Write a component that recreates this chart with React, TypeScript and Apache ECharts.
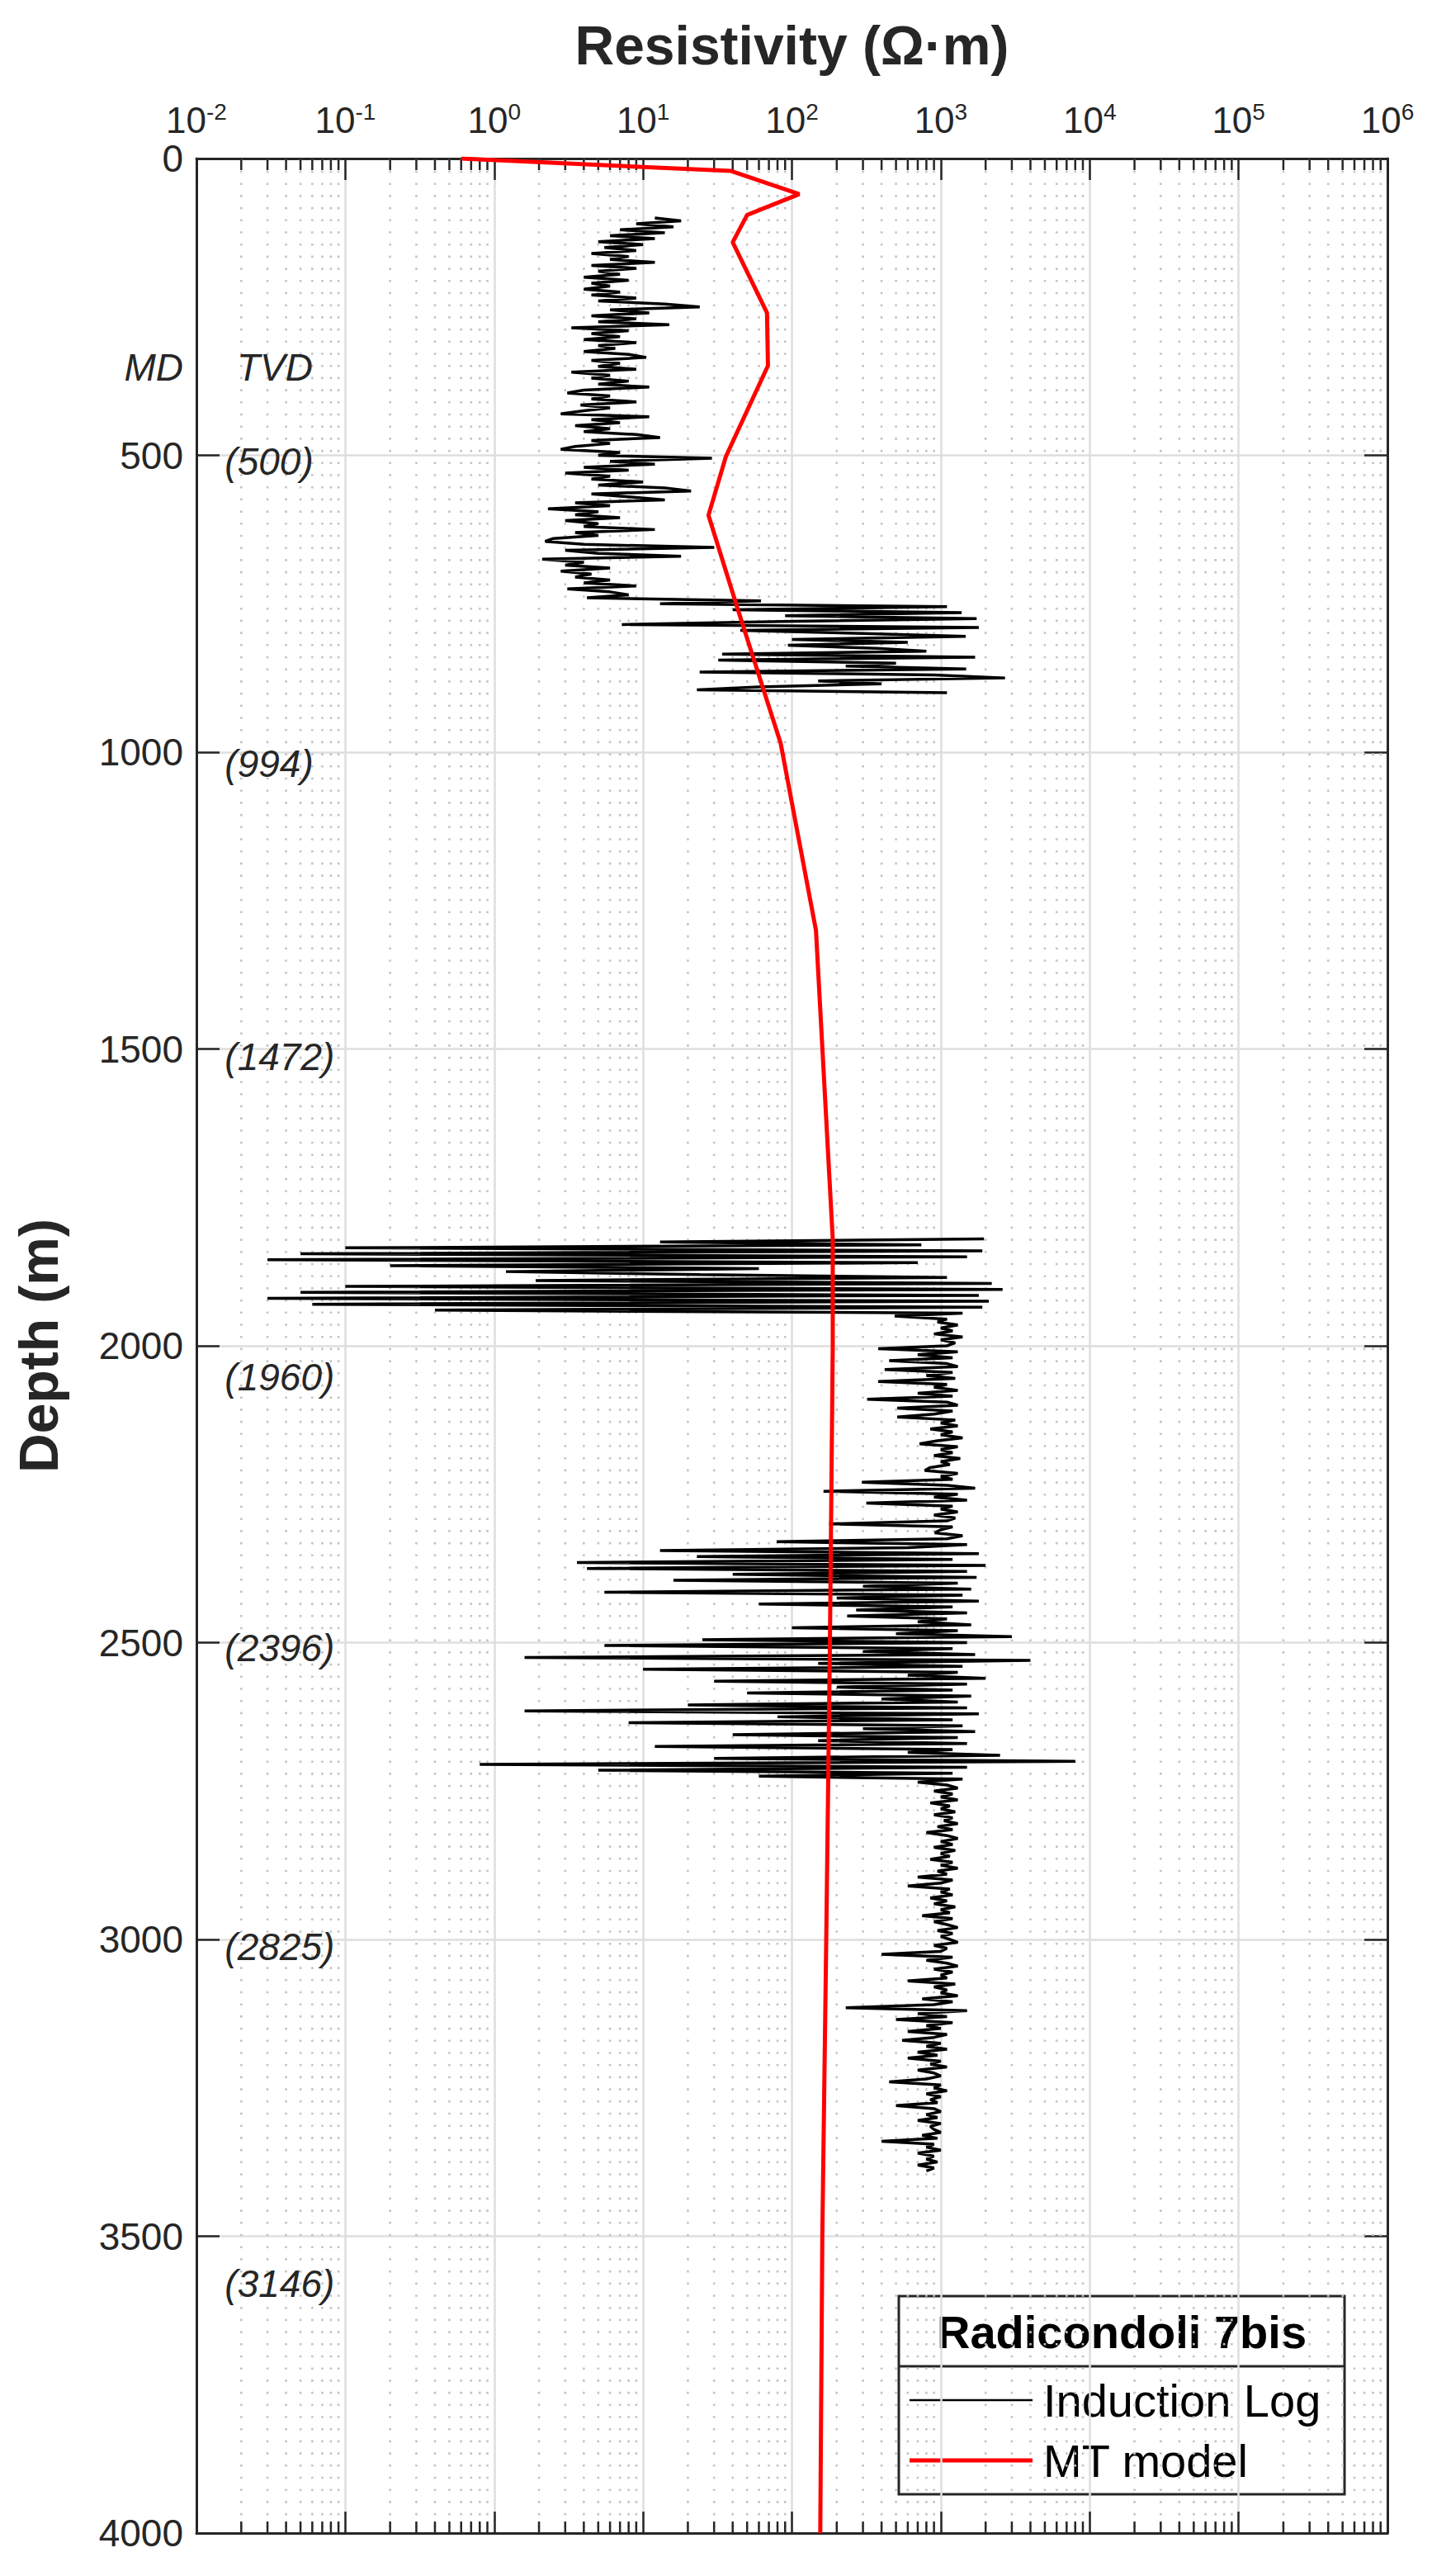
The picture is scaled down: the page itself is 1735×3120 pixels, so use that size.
import React, { useEffect, useRef } from 'react';
import * as echarts from 'echarts';

const FONT = 'Liberation Sans, Arial, Helvetica, sans-serif';
const AXIS_COLOR = '#262626';

// x axis decades (exponents) and minor multipliers
const xDecades = [-2, -1, 0, 1, 2, 3, 4, 5];
const minorMultipliers = [2, 3, 4, 5, 6, 7, 8, 9];

// MT model (resistivity in ohm·m vs depth in m)
const mtDepth = [0, 21, 60, 95, 141, 260, 349, 502, 601, 757, 985, 1300, 1820, 2000, 2500, 3000, 3500, 4000];
const mtRes = [0.6, 39, 112, 50, 40, 68, 69, 36, 27.5, 43, 84, 145, 188, 188, 180, 170, 160, 155];

// Induction log, upper section, sampled every 5 m starting at 100 m
const LOG_STEP = 5;
const LOG_A_START = 100;
const logResA = [
  12, 18, 9, 16, 7, 14, 6, 12, 5, 10, // 100
  5.5, 9, 4.5, 8, 6, 12, 4.5, 9, 5, 7, // 150
  4, 8, 4.5, 6, 4, 7, 4.5, 9, 5, 14, // 200
  24, 6, 11, 4.5, 9, 5, 15, 3.3, 8, 4.5, // 250
  7, 4, 9, 5, 6.5, 4, 8, 10.5, 4.5, 7, // 300
  5, 9, 3.3, 6, 4.5, 8, 5, 11, 4, 3.1, // 350
  6, 4.5, 9, 3.8, 6, 4, 2.8, 11, 4.5, 7, // 400
  3.5, 6, 4, 9, 13, 4.5, 6, 3.5, 2.8, 7, // 450
  5, 29, 6, 12, 4, 8, 3, 6, 4.5, 10, // 500
  5, 14, 21, 4.5, 8, 14, 3.5, 6, 2.3, 5, // 550
  3.5, 7, 3, 5, 4, 12, 3.5, 5, 2.5, 2.2, // 600
  4, 30, 3, 5, 18, 2.1, 4, 3, 6, 2.8, // 650
  4.5, 3.5, 6, 4, 9, 3.1, 6, 8, 4.2, 62, // 700
  13, 1100, 40, 1380, 90, 1740, 84, 7.2, 1800, 45, // 750
  300, 1470, 100, 600, 94, 370, 800, 34, 1700, 32, // 800
  500, 230, 1480, 24, 900, 2700, 150, 400, 60, 23, // 850
  1100, // 900
];

// Induction log, lower section, sampled every 5 m starting at 1820 m
const LOG_B_START = 1820;
const logResB = [
  1950, 13, 740, 0.1, 1900, 0.05, 1500, 0.03, 700, 0.2, // 1820
  60, 1.2, 24, 1100, 1.9, 2200, 0.1, 2600, 0.05, 1800, // 1870
  0.03, 2100, 0.06, 1900, 0.4, 1400, 490, 1100, 950, 1300, // 1920
  1000, 1200, 900, 1400, 1000, 1250, 1100, 380, 1300, 700, // 1970
  1200, 450, 1100, 1300, 420, 1200, 800, 1250, 380, 1100, // 2020
  900, 1300, 700, 1200, 320, 1100, 1300, 510, 1200, 900, // 2070
  510, 1250, 1000, 1300, 850, 1200, 1000, 1400, 950, 720, // 2120
  1300, 1000, 1200, 900, 1350, 1000, 1150, 850, 780, 1300, // 2170
  1000, 1200, 295, 1100, 1700, 163, 1300, 900, 1500, 316, // 2220
  1200, 1000, 1300, 900, 1250, 1100, 178, 1200, 1000, 910, // 2270
  1400, 1100, 79, 1500, 600, 13, 1800, 23, 1200, 3.6, // 2320
  2000, 4.2, 1500, 40, 1740, 16, 1300, 300, 1600, 5.5, // 2370
  1400, 200, 1800, 60, 1200, 270, 1500, 235, 1100, 700, // 2420
  1600, 100, 1300, 500, 3000, 25, 1500, 5.5, 1200, 300, // 2470
  1700, 1.6, 4000, 150, 1400, 10, 1300, 600, 2000, 30, // 2520
  1500, 200, 1200, 50, 1600, 400, 1300, 20, 1500, 1.6, // 2570
  1800, 80, 1200, 8, 1400, 300, 1700, 40, 1300, 150, // 2620
  1500, 12, 1200, 600, 2500, 30, 8000, 0.8, 1500, 5, // 2670
  1200, 60, 1400, 700, 1100, 1300, 900, 1200, 1000, 1300, // 2720
  850, 1150, 1000, 1250, 900, 1200, 1050, 1300, 950, 1200, // 2770
  800, 1100, 1300, 1000, 1200, 900, 1250, 1000, 1150, 850, // 2820
  1200, 1000, 1300, 950, 1100, 700, 1200, 1000, 600, 1150, // 2870
  1000, 1200, 850, 1100, 900, 1250, 1000, 1150, 750, 1200, // 2920
  900, 1100, 1300, 950, 1200, 1000, 1150, 1300, 900, 1100, // 2970
  1000, 400, 1200, 800, 1100, 1300, 900, 1200, 1000, 1100, // 3020
  600, 1250, 900, 1100, 1000, 1300, 750, 1200, 900, 230, // 3070
  1500, 700, 1100, 500, 1200, 800, 1000, 600, 1100, 900, // 3120
  550, 1000, 800, 1100, 700, 950, 600, 1000, 850, 1100, // 3170
  700, 900, 1000, 800, 450, 1000, 900, 1100, 800, 1000, // 3220
  850, 950, 500, 900, 1000, 800, 950, 700, 1000, 850, // 3270
  900, 1000, 750, 950, 400, 900, 800, 1000, 700, 900, // 3320
  800, 950, 700, 900, 800, // 3370
];

// TVD annotations (label, MD depth where drawn)
const tvdLabels = ['(500)', '(994)', '(1472)', '(1960)', '(2396)', '(2825)', '(3146)'];
const tvdDepths = [511, 1020, 1513, 2053, 2509, 3012, 3580];
const TVD_X = 0.0155;

const legendTitle = 'Radicondoli 7bis';
const seriesNames = ['Induction Log', 'MT model'];

function buildOption(): any {
  const minorValues: number[][] = [];
  xDecades.forEach((e) => {
    minorMultipliers.forEach((m) => minorValues.push([m * Math.pow(10, e), 0]));
  });

  const logDataA = logResA.map((v, i) => [v, LOG_A_START + i * LOG_STEP]);
  const logDataB = logResB.map((v, i) => [v, LOG_B_START + i * LOG_STEP]);
  const mtData = mtRes.map((v, i) => [v, mtDepth[i]]);
  const tvdData = tvdLabels.map((t, i) => [TVD_X, tvdDepths[i], i]);

  const xCommon = {
    type: 'log',
    logBase: 10,
    min: 0.01,
    max: 1e6,
    splitNumber: 8,
    gridIndex: 0,
    axisLine: { show: true, onZero: false, lineStyle: { color: AXIS_COLOR, width: 3 } },
    axisTick: { show: true, inside: true, length: 26, lineStyle: { color: AXIS_COLOR, width: 2.5 } },
    minorTick: { show: false },
  };

  const yCommon = {
    type: 'value',
    inverse: true,
    min: 0,
    max: 4000,
    interval: 500,
    gridIndex: 0,
    axisLine: { show: true, onZero: false, lineStyle: { color: AXIS_COLOR, width: 3 } },
    axisTick: { show: true, inside: true, length: 28, lineStyle: { color: AXIS_COLOR, width: 2.5 } },
  };

  return {
    animation: false,
    backgroundColor: '#ffffff',
    grid: { left: 238, top: 192, width: 1443, height: 2876, containLabel: false },
    xAxis: [
      {
        ...xCommon,
        position: 'top',
        name: 'Resistivity (Ω·m)',
        nameLocation: 'middle',
        nameGap: 104,
        nameTextStyle: { fontFamily: FONT, fontSize: 66, fontWeight: 'bold', color: AXIS_COLOR },
        splitLine: { show: true, lineStyle: { color: '#dedede', width: 2.5 } },
        axisLabel: {
          show: true,
          margin: 25,
          showMinLabel: true,
          showMaxLabel: true,
          formatter: (v: number) => `{b|10}{s|${Math.round(Math.log10(v))}}`,
          rich: {
            b: { fontFamily: FONT, fontSize: 44, lineHeight: 46, verticalAlign: 'bottom', color: AXIS_COLOR },
            s: { fontFamily: FONT, fontSize: 28, lineHeight: 24, verticalAlign: 'top', color: AXIS_COLOR },
          },
        },
      },
      {
        ...xCommon,
        position: 'bottom',
        splitLine: { show: false },
        axisLabel: { show: false },
      },
    ],
    yAxis: [
      {
        ...yCommon,
        position: 'left',
        name: 'Depth (m)',
        nameLocation: 'middle',
        nameRotate: 90,
        nameGap: 158,
        nameTextStyle: { fontFamily: FONT, fontSize: 66, fontWeight: 'bold', color: AXIS_COLOR },
        splitLine: { show: true, lineStyle: { color: '#dedede', width: 2.5 } },
        axisLabel: {
          show: true,
          margin: 16,
          showMinLabel: true,
          showMaxLabel: true,
          fontFamily: FONT,
          fontSize: 46,
          lineHeight: 30,
          color: AXIS_COLOR,
          formatter: (v: number) => String(v),
        },
      },
      {
        ...yCommon,
        position: 'right',
        splitLine: { show: false },
        axisLabel: { show: false },
      },
    ],
    series: [
      {
        type: 'custom',
        name: 'minor grid',
        coordinateSystem: 'cartesian2d',
        xAxisIndex: 0,
        yAxisIndex: 0,
        silent: true,
        z: 1,
        encode: { x: 0, y: 1 },
        data: minorValues,
        renderItem: (params: any, api: any) => {
          const v = api.value(0);
          const pTop = api.coord([v, 0]);
          const pBot = api.coord([v, 4000]);
          const x = pTop[0];
          return {
            type: 'group',
            children: [
              {
                type: 'line',
                shape: { x1: x, y1: pTop[1], x2: x, y2: pBot[1] },
                style: { stroke: '#c4c4c4', lineWidth: 2.6, lineDash: [2.6, 12.1] },
              },
              {
                type: 'line',
                shape: { x1: x, y1: pTop[1], x2: x, y2: pTop[1] + 14 },
                style: { stroke: AXIS_COLOR, lineWidth: 2.5 },
              },
              {
                type: 'line',
                shape: { x1: x, y1: pBot[1] - 14, x2: x, y2: pBot[1] },
                style: { stroke: AXIS_COLOR, lineWidth: 2.5 },
              },
            ],
          };
        },
      },
      {
        type: 'line',
        name: seriesNames[0],
        data: logDataA,
        xAxisIndex: 0,
        yAxisIndex: 0,
        symbol: 'none',
        showSymbol: false,
        silent: true,
        z: 3,
        lineStyle: { color: '#000000', width: 3.5 },
      },
      {
        type: 'line',
        name: seriesNames[0],
        data: logDataB,
        xAxisIndex: 0,
        yAxisIndex: 0,
        symbol: 'none',
        showSymbol: false,
        silent: true,
        z: 3,
        lineStyle: { color: '#000000', width: 3.5 },
      },
      {
        type: 'line',
        name: seriesNames[1],
        data: mtData,
        xAxisIndex: 0,
        yAxisIndex: 0,
        symbol: 'none',
        showSymbol: false,
        silent: true,
        z: 4,
        lineStyle: { color: '#ff0000', width: 5 },
      },
      {
        type: 'custom',
        name: 'TVD',
        coordinateSystem: 'cartesian2d',
        xAxisIndex: 0,
        yAxisIndex: 0,
        silent: true,
        z: 5,
        encode: { x: 0, y: 1 },
        data: tvdData,
        renderItem: (params: any, api: any) => {
          const p = api.coord([api.value(0), api.value(1)]);
          const idx = api.value(2);
          return {
            type: 'text',
            x: p[0],
            y: p[1],
            style: {
              text: tvdLabels[idx],
              textAlign: 'left',
              textVerticalAlign: 'middle',
              font: `italic 46px ${FONT}`,
              fill: AXIS_COLOR,
            },
          };
        },
      },
    ],
    graphic: [
      {
        type: 'text',
        z: 100,
        style: { text: 'MD', x: 222, y: 445, textAlign: 'right', textVerticalAlign: 'middle', font: `italic 46px ${FONT}`, fill: AXIS_COLOR },
      },
      {
        type: 'text',
        z: 100,
        style: { text: 'TVD', x: 287, y: 445, textAlign: 'left', textVerticalAlign: 'middle', font: `italic 46px ${FONT}`, fill: AXIS_COLOR },
      },
      {
        type: 'group',
        z: 100,
        children: [
          {
            type: 'rect',
            shape: { x: 1089, y: 2781, width: 540, height: 240 },
            style: { fill: '#ffffff', stroke: AXIS_COLOR, lineWidth: 3 },
          },
          {
            type: 'line',
            shape: { x1: 1089, y1: 2866, x2: 1629, y2: 2866 },
            style: { stroke: AXIS_COLOR, lineWidth: 3 },
          },
          {
            type: 'text',
            style: { text: legendTitle, x: 1359, y: 2824, textAlign: 'center', textVerticalAlign: 'middle', font: `bold 56px ${FONT}`, fill: '#000000' },
          },
          {
            type: 'line',
            shape: { x1: 1102, y1: 2907, x2: 1251, y2: 2907 },
            style: { stroke: '#000000', lineWidth: 2.5 },
          },
          {
            type: 'text',
            style: { text: seriesNames[0], x: 1264, y: 2907, textAlign: 'left', textVerticalAlign: 'middle', font: `56px ${FONT}`, fill: '#000000' },
          },
          {
            type: 'line',
            shape: { x1: 1102, y1: 2980, x2: 1251, y2: 2980 },
            style: { stroke: '#ff0000', lineWidth: 5 },
          },
          {
            type: 'text',
            style: { text: seriesNames[1], x: 1264, y: 2980, textAlign: 'left', textVerticalAlign: 'middle', font: `56px ${FONT}`, fill: '#000000' },
          },
        ],
      },
    ],
  };
}

export default function App() {
  const ref = useRef<HTMLDivElement>(null);
  useEffect(() => {
    document.body.style.margin = '0';
    const chart = echarts.init(ref.current as HTMLDivElement, null, { renderer: 'svg' });
    chart.setOption(buildOption());
    return () => {
      chart.dispose();
    };
  }, []);
  return <div ref={ref} style={{ width: 1735, height: 3120 }} />;
}
